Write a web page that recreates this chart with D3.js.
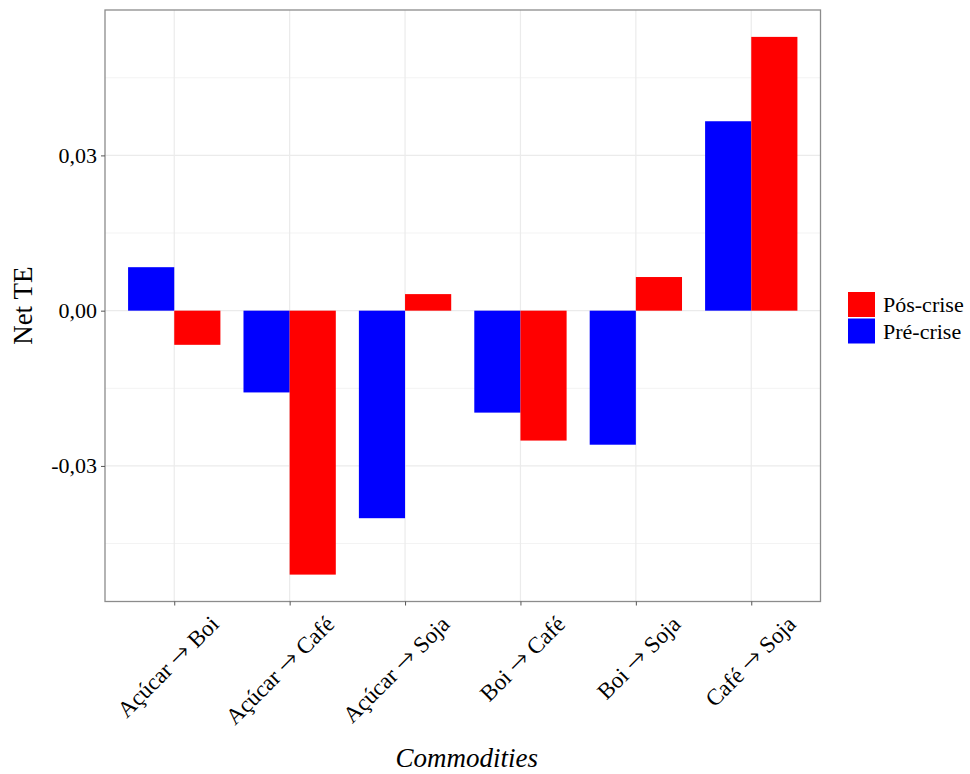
<!DOCTYPE html>
<html><head><meta charset="utf-8">
<script src="https://cdn.jsdelivr.net/npm/d3@7"></script>
<style>body{margin:0;background:#fff}svg{display:block}text{font-family:"Liberation Serif","Times New Roman",serif;fill:#000}</style>
</head><body>
<svg id="c" width="970" height="774"></svg>
<script>
const categories = ["Açúcar → Boi","Açúcar → Café","Açúcar → Soja","Boi → Café","Boi → Soja","Café → Soja"];
const preCrise = [0.0084,-0.0158,-0.0401,-0.0197,-0.0259,0.0366];
const posCrise = [-0.0066,-0.0510,0.0032,-0.0251,0.0065,0.0529];
const seriesNames = ["Pré-crise","Pós-crise"];
const seriesColors = ["#0000FF","#FF0000"];
const yTicks = [-0.03,0,0.03];
const yMinor = [-0.045,-0.015,0.015,0.045];
const legendOrder = ["Pós-crise","Pré-crise"];

const svg = d3.select("#c");
const L=105, R=820.5, T=10, B=601.5;

const all = preCrise.concat(posCrise);
const mn = d3.min(all), mx = d3.max(all), pad=(mx-mn)*0.05;
const y = d3.scaleLinear().domain([mn-pad, mx+pad]).range([B,T]);
const xc = d3.scalePoint().domain(categories).range([L,R]).padding(0.6);
const step = xc.step();
const xs = d3.scaleBand().domain(seriesNames).range([-0.4*step,0.4*step]);

// grid
const g = svg.append("g");
g.selectAll(".mn").data(yMinor).join("line").attr("x1",L).attr("x2",R)
 .attr("y1",d=>y(d)).attr("y2",d=>y(d)).attr("stroke","#f3f3f3").attr("stroke-width",1);
g.selectAll(".mj").data(yTicks).join("line").attr("x1",L).attr("x2",R)
 .attr("y1",d=>y(d)).attr("y2",d=>y(d)).attr("stroke","#ebebeb").attr("stroke-width",1.2);
g.selectAll(".vx").data(categories).join("line").attr("y1",T).attr("y2",B)
 .attr("x1",d=>xc(d)).attr("x2",d=>xc(d)).attr("stroke","#ebebeb").attr("stroke-width",1.2);

// bars
const data=[];
categories.forEach((c,i)=>{data.push({c,s:"Pré-crise",v:preCrise[i]});data.push({c,s:"Pós-crise",v:posCrise[i]});});
const color = d3.scaleOrdinal().domain(seriesNames).range(seriesColors);
svg.append("g").selectAll("rect").data(data).join("rect")
 .attr("x",d=>xc(d.c)+xs(d.s)).attr("width",xs.bandwidth())
 .attr("y",d=>y(Math.max(0,d.v))).attr("height",d=>Math.abs(y(d.v)-y(0)))
 .attr("fill",d=>color(d.s));

// panel border
svg.append("rect").attr("x",L).attr("y",T).attr("width",R-L).attr("height",B-T)
 .attr("fill","none").attr("stroke","#8c8c8c").attr("stroke-width",1.3);

// y axis
const fmt = d=> d3.format(".2f")(d).replace(".",",").replace("−","-");
const ya = svg.append("g").attr("transform",`translate(${L},0)`)
 .call(d3.axisLeft(y).tickValues(yTicks).tickSize(4).tickPadding(4).tickFormat(fmt));
ya.select(".domain").remove();
ya.selectAll(".tick line").attr("stroke","#555");
ya.selectAll(".tick text").attr("font-size","22px").attr("fill","#000");

// x axis
const xa = svg.append("g").attr("transform",`translate(0,${B})`)
 .call(d3.axisBottom(xc).tickSize(4).tickFormat(""));
xa.select(".domain").remove();
xa.selectAll(".tick line").attr("stroke","#555");
const xl = svg.append("g").selectAll("text").data(categories).join("text")
 .attr("transform",d=>`translate(${xc(d)+46},${B+24}) rotate(-45)`)
 .attr("text-anchor","end").attr("font-size","23px").style("white-space","pre");
xl.each(function(d){
  const parts = d.split("→");
  const t = d3.select(this);
  t.append("tspan").text(parts[0]);
  t.append("tspan").attr("font-family","DejaVu Sans").attr("font-size","25px").attr("font-weight","200").text("→");
  t.append("tspan").text(parts[1]);
});

// axis titles
svg.append("text").attr("transform",`translate(32,${(T+B)/2}) rotate(-90)`)
 .attr("text-anchor","middle").attr("font-size","27px").text("Net TE");
svg.append("text").attr("x",(L+R)/2+4).attr("y",767).attr("text-anchor","middle")
 .attr("font-size","27px").attr("font-style","italic").text("Commodities");

// legend
const lg = svg.append("g").attr("transform","translate(848,292)");
legendOrder.forEach((s,i)=>{
  lg.append("rect").attr("x",0).attr("y",i*26.5).attr("width",27).attr("height",25).attr("fill",color(s));
  lg.append("text").attr("x",35).attr("y",i*26.5+20).attr("font-size","22px").text(s);
});
</script>
</body></html>
